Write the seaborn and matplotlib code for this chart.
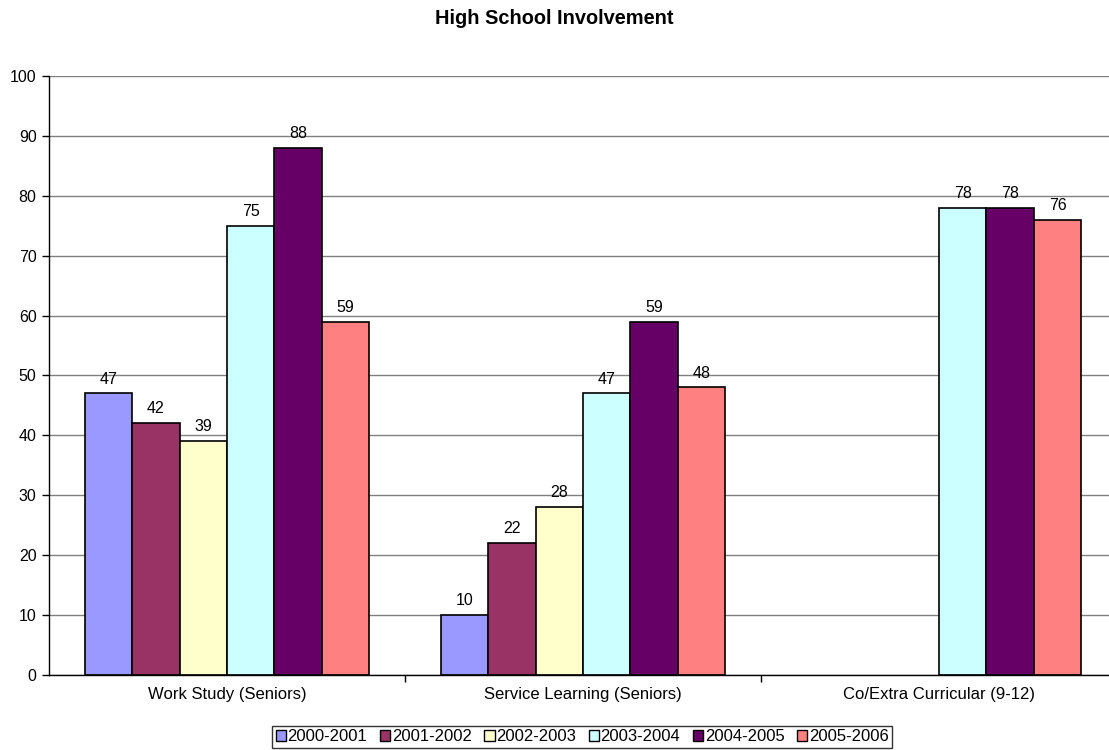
import numpy as np
import pandas as pd
import matplotlib
matplotlib.use("Agg")
import matplotlib.pyplot as plt
from matplotlib.patches import Patch
import seaborn as sns

categories = ["Work Study (Seniors)", "Service Learning (Seniors)", "Co/Extra Curricular (9-12)"]
years = ["2000-2001", "2001-2002", "2002-2003", "2003-2004", "2004-2005", "2005-2006"]
values = {
    "2000-2001": [47, 10, np.nan],
    "2001-2002": [42, 22, np.nan],
    "2002-2003": [39, 28, np.nan],
    "2003-2004": [75, 47, 78],
    "2004-2005": [88, 59, 78],
    "2005-2006": [59, 48, 76],
}
colors = ["#9999FF", "#993366", "#FFFFCC", "#CCFFFF", "#660066", "#FF8080"]
yticks = [0, 10, 20, 30, 40, 50, 60, 70, 80, 90, 100]

rows = []
for yr in years:
    for cat, v in zip(categories, values[yr]):
        rows.append({"category": cat, "year": yr, "value": v})
df = pd.DataFrame(rows)

sns.set_style("white")
plt.rcParams["font.family"] = ["Liberation Sans", "DejaVu Sans"]
plt.rcParams["text.color"] = "black"
plt.rcParams["xtick.color"] = "black"
plt.rcParams["ytick.color"] = "black"

fig = plt.figure(figsize=(11.09, 7.5), dpi=100)
ax = fig.add_axes([49 / 1109, 0.1, 1068 / 1109, 0.7987])

sns.barplot(data=df, x="category", y="value", hue="year", order=categories,
            hue_order=years, palette=colors, width=0.8, edgecolor="black",
            linewidth=1.2, saturation=1, ax=ax, legend=False, errorbar=None)

# value labels above each bar
for cont in ax.containers:
    labels = ["" if np.isnan(b.get_height()) else f"{b.get_height():.0f}" for b in cont]
    ax.bar_label(cont, labels=labels, padding=5, fontsize=11.5, color="black")

ax.set_ylim(0, 100)
ax.set_xlim(-0.5, 2.5)
ax.set_yticks(yticks)
ax.yaxis.grid(True, color="#808080", linewidth=1)
ax.set_axisbelow(True)
ax.set_xlabel("")
ax.set_ylabel("")

for s in ["top", "right"]:
    ax.spines[s].set_visible(False)
for s in ["left", "bottom"]:
    ax.spines[s].set_color("black")
    ax.spines[s].set_linewidth(1)

ax.tick_params(axis="y", which="major", length=5, width=1, color="black",
               labelcolor="black", labelsize=11.5, left=True, pad=4)
ax.tick_params(axis="x", which="major", length=0, labelsize=12,
               labelcolor="black", pad=9)
ax.set_xticks([0.5, 1.5], minor=True)
ax.tick_params(axis="x", which="minor", length=5, width=1, color="black", bottom=True)

fig.text(0.5, 1 - 18 / 750, "High School Involvement", ha="center", va="center",
         fontsize=14.4, fontweight="bold", color="black")

handles = [Patch(facecolor=c, edgecolor="black", linewidth=1) for c in colors]
fig.legend(handles, years, loc="lower center", bbox_to_anchor=(0.525, 0.0),
           ncol=6, fontsize=12, frameon=True, fancybox=False, edgecolor="black",
           handlelength=0.62, handleheight=0.62, handletextpad=0.1,
           columnspacing=0.75, borderpad=0.2, borderaxespad=0.15,
           labelcolor="black")

fig.savefig("out.png", dpi=100)
